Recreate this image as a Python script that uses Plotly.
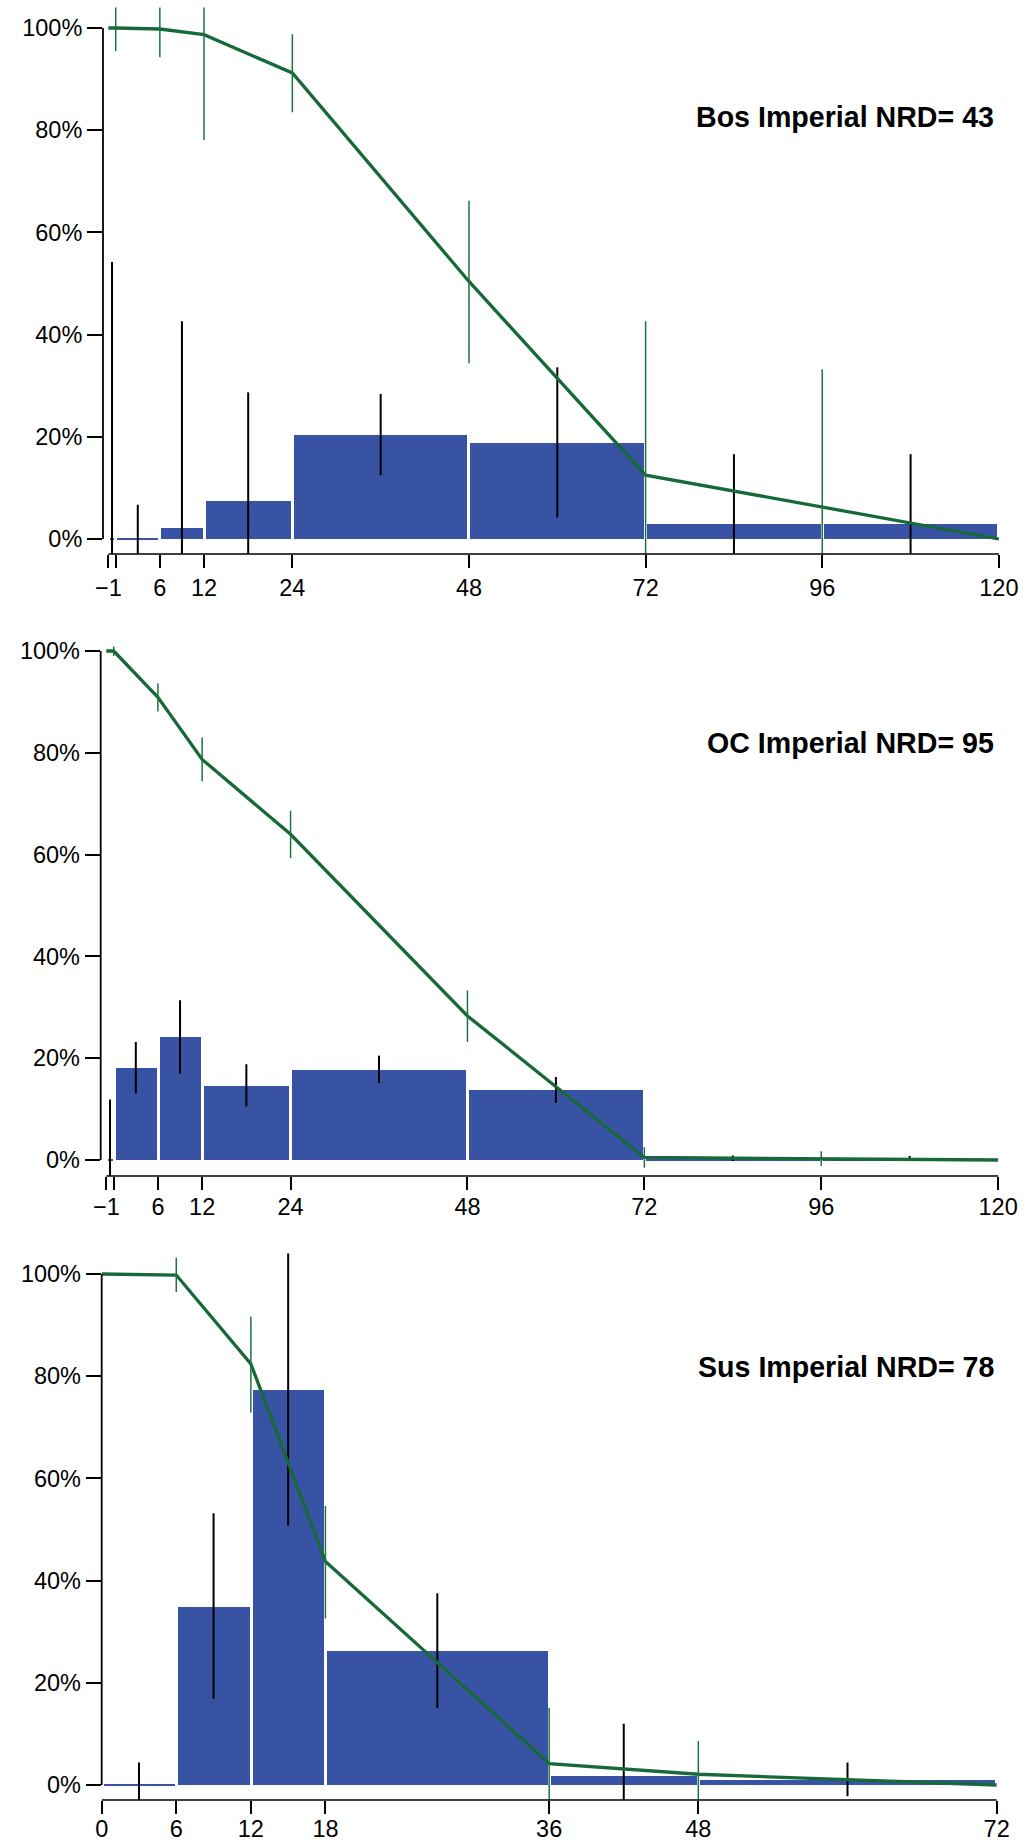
import plotly.graph_objects as go

# ---------------- DATA ----------------
TITLES = ["Bos Imperial NRD= 43", "OC Imperial NRD= 95", "Sus Imperial NRD= 78"]

# Panel 1 : Bos
BOS_EDGES = [-1, 0, 6, 12, 24, 48, 72, 96, 120]
BOS_BARS = [0.2, 0.2, 2.2, 7.5, 20.4, 18.9, 3.0, 3.0]
BOS_BAR_LO = [-20, -20, -20, -20, 12.5, 4.2, -20, -20]
BOS_BAR_HI = [54.2, 6.7, 42.6, 28.7, 28.4, 33.6, 16.6, 16.6]
BOS_SURV_AGE = [-1, 0, 6, 12, 24, 48, 72, 96, 120]
BOS_SURV = [100, 100, 99.8, 98.7, 91.2, 50.4, 12.5, 6.2, 0]
BOS_SURV_LO = [None, 95.5, 94.3, 78.1, 83.5, 34.4, -20, -20, None]
BOS_SURV_HI = [None, 106, 106, 106, 98.8, 66.2, 42.6, 33.2, None]
BOS_TICKS = [-1, 0, 6, 12, 24, 48, 72, 96, 120]
BOS_TICKTEXT = ["\u22121", "", "6", "12", "24", "48", "72", "96", "120"]

# Panel 2 : OC
OC_EDGES = [-1, 0, 6, 12, 24, 48, 72, 96, 120]
OC_BARS = [0.1, 18.15, 24.2, 14.7, 17.8, 13.8, 0.3, 0.1]
OC_BAR_LO = [-20, 13.1, 17.0, 10.5, 15.1, 11.2, -0.2, -0.2]
OC_BAR_HI = [11.9, 23.2, 31.4, 18.8, 20.5, 16.3, 0.9, 0.8]
OC_SURV_AGE = [-1, 0, 6, 12, 24, 48, 72, 96, 120]
OC_SURV = [100, 100, 90.9, 78.7, 64.0, 28.3, 0.5, 0.2, 0]
OC_SURV_LO = [None, 99.0, 88.1, 74.4, 59.3, 23.2, -1.5, -1.2, None]
OC_SURV_HI = [None, 100.9, 93.6, 83.0, 68.6, 33.3, 2.5, 1.7, None]
OC_TICKS = [-1, 0, 6, 12, 24, 48, 72, 96, 120]
OC_TICKTEXT = ["\u22121", "", "6", "12", "24", "48", "72", "96", "120"]

# Panel 3 : Sus
SUS_EDGES = [0, 6, 12, 18, 36, 48, 72]
SUS_BARS = [0.15, 35.0, 77.4, 26.4, 1.8, 1.1]
SUS_BAR_LO = [-20, 16.9, 50.8, 15.1, -20, -2.2]
SUS_BAR_HI = [4.4, 53.2, 110, 37.5, 12.0, 4.4]
SUS_SURV_AGE = [0, 6, 12, 18, 36, 48, 72]
SUS_SURV = [100, 99.8, 82.4, 43.75, 4.2, 2.1, 0]
SUS_SURV_LO = [None, 96.5, 72.9, 32.6, -20, -20, None]
SUS_SURV_HI = [None, 103.2, 91.7, 54.6, 15.1, 8.6, None]
SUS_TICKS = [0, 6, 12, 18, 36, 48, 72]
SUS_TICKTEXT = ["0", "6", "12", "18", "36", "48", "72"]

Y_TICKS = [0, 20, 40, 60, 80, 100]
Y_TICKTEXT = ["0%", "20%", "40%", "60%", "80%", "100%"]

# ---------------- STYLE / LAYOUT ----------------
W, H = 1027, 1845
BAR_COLOR = "#3953A4"
LINE_COLOR = "#17693A"
SURV_ERR_COLOR = "#1E7343"
FONT = "Liberation Sans, Arial, Helvetica, sans-serif"
TICK_SIZE = 23.5
TITLE_SIZE = 28.6
BAR_GAP_PX = 3.0

# pixel geometry of each panel: age-0 x pixel, px per month, left edge (y axis) px,
# 0% y pixel, px per %, x-axis y pixel, top y pixel, title y pixel, x label standoff
GEOM = [
    dict(x0=115.7, kx=7.36, left=103.0, y0=539.0, ky=5.11, bottom=554.0, top=7.6, title_y=117.5, stand=0),
    dict(x0=113.7, kx=7.37, left=100.7, y0=1160.0, ky=5.09, bottom=1176.0, top=630.6, title_y=742.5, stand=-3),
    dict(x0=101.7, kx=12.43, left=101.7, y0=1785.0, ky=5.11, bottom=1800.0, top=1253.6, title_y=1367.0, stand=-5),
]

PANELS = [
    (BOS_EDGES, BOS_BARS, BOS_BAR_LO, BOS_BAR_HI, BOS_SURV_AGE, BOS_SURV, BOS_SURV_LO, BOS_SURV_HI, BOS_TICKS, BOS_TICKTEXT),
    (OC_EDGES, OC_BARS, OC_BAR_LO, OC_BAR_HI, OC_SURV_AGE, OC_SURV, OC_SURV_LO, OC_SURV_HI, OC_TICKS, OC_TICKTEXT),
    (SUS_EDGES, SUS_BARS, SUS_BAR_LO, SUS_BAR_HI, SUS_SURV_AGE, SUS_SURV, SUS_SURV_LO, SUS_SURV_HI, SUS_TICKS, SUS_TICKTEXT),
]

fig = go.Figure()
layout = dict(
    width=W, height=H, margin=dict(l=0, r=0, t=0, b=0, autoexpand=False),
    paper_bgcolor="white", plot_bgcolor="white", showlegend=False,
    font=dict(family=FONT, size=TICK_SIZE, color="black"),
)
shapes = []
annotations = []


def seg(xs, lo, hi):
    X, Y = [], []
    for x, a, b in zip(xs, lo, hi):
        if a is None or b is None:
            continue
        X += [x, x, None]
        Y += [a, b, None]
    return X, Y


for i, (g, p) in enumerate(zip(GEOM, PANELS)):
    edges, bars, blo, bhi, sage, surv, slo, shi, ticks, ticktext = p
    n = i + 1
    xa = "x" if n == 1 else f"x{n}"
    ya = "y" if n == 1 else f"y{n}"
    xkey = "xaxis" if n == 1 else f"xaxis{n}"
    ykey = "yaxis" if n == 1 else f"yaxis{n}"

    xmin = (g["left"] - g["x0"]) / g["kx"]
    xmax = (W - g["x0"]) / g["kx"]
    ymin = -(g["bottom"] - g["y0"]) / g["ky"]
    ymax = (g["y0"] - g["top"]) / g["ky"]
    gap = BAR_GAP_PX / g["kx"]

    mids = [(a + b) / 2 for a, b in zip(edges[:-1], edges[1:])]
    widths = [(b - a) - gap for a, b in zip(edges[:-1], edges[1:])]

    fig.add_trace(go.Bar(x=mids, y=bars, width=widths, marker=dict(color=BAR_COLOR, line=dict(width=0)),
                         xaxis=xa, yaxis=ya, hoverinfo="skip"))
    ex, ey = seg(mids, blo, bhi)
    fig.add_trace(go.Scatter(x=ex, y=ey, mode="lines", line=dict(color="black", width=2.0),
                             xaxis=xa, yaxis=ya, hoverinfo="skip"))
    fig.add_trace(go.Scatter(x=sage, y=surv, mode="lines", line=dict(color=LINE_COLOR, width=3.3),
                             xaxis=xa, yaxis=ya, hoverinfo="skip"))
    gx, gy = seg(sage, slo, shi)
    fig.add_trace(go.Scatter(x=gx, y=gy, mode="lines", line=dict(color=SURV_ERR_COLOR, width=1.5),
                             xaxis=xa, yaxis=ya, hoverinfo="skip"))

    layout[xkey] = dict(
        domain=[g["left"] / W, 1.0], range=[xmin, xmax], anchor=ya, automargin=False,
        showgrid=False, zeroline=False, showline=False,
        tickmode="array", tickvals=ticks, ticktext=ticktext,
        ticks="outside", ticklen=13, tickwidth=1.5, tickcolor="black",
        ticklabelstandoff=g["stand"],
        tickfont=dict(family=FONT, size=TICK_SIZE, color="black"),
    )
    layout[ykey] = dict(
        domain=[1 - g["bottom"] / H, 1 - g["top"] / H], range=[ymin, ymax], anchor=xa, automargin=False,
        showgrid=False, zeroline=False, showline=False,
        tickmode="array", tickvals=Y_TICKS, ticktext=Y_TICKTEXT,
        ticks="outside", ticklen=15, tickwidth=1.5, tickcolor="black",
        tickfont=dict(family=FONT, size=TICK_SIZE, color="black"),
    )
    # R-style axis lines: y from 0% to 100%, x from first to last tick
    shapes.append(dict(type="line", xref=f"{xa} domain", yref=ya, x0=0, x1=0,
                       y0=Y_TICKS[0], y1=Y_TICKS[-1], line=dict(color="black", width=1.8)))
    shapes.append(dict(type="line", xref=xa, yref=f"{ya} domain", x0=ticks[0], x1=ticks[-1],
                       y0=0, y1=0, line=dict(color="black", width=1.5)))
    annotations.append(dict(text=f"<b>{TITLES[i]}</b>", xref="paper", yref="paper",
                            x=996 / W, y=1 - g["title_y"] / H, xanchor="right", yanchor="middle",
                            showarrow=False, font=dict(family=FONT, size=TITLE_SIZE, color="black")))

layout["shapes"] = shapes
layout["annotations"] = annotations
layout["bargap"] = 0
fig.update_layout(**layout)
fig.write_html("out.html")
